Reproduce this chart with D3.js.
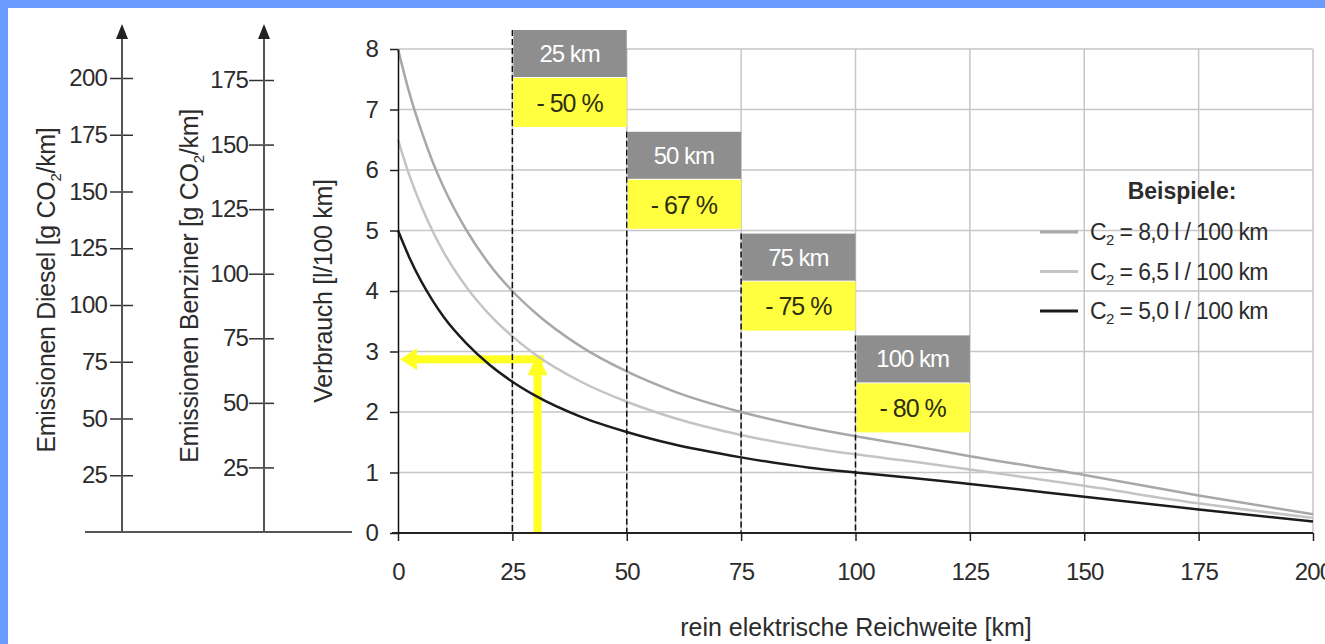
<!DOCTYPE html>
<meta charset="utf-8">
<style>
body { margin: 0; }
text { font-family: "Liberation Sans", Arial, sans-serif; fill: #2c2c2c; }
.grid line { stroke: #c6c6c6; stroke-width: 1.5px; }
.axis text { font-size: 24px; letter-spacing: -0.8px; }
</style>
<body>
<script src="https://cdn.jsdelivr.net/npm/d3@7"></script>
<script>

// rein elektrische Reichweite [km], sample points
var km   = [0, 2.5, 5, 7.5, 10, 15, 20, 25, 30, 40, 50, 60, 75, 90, 100, 112.5, 125, 150, 175, 200];
// Verbrauch [l/100 km] for each example C2
var c80  = [8.0, 7.27, 6.67, 6.15, 5.71, 5.0, 4.44, 4.0, 3.64, 3.08, 2.67, 2.35, 2.0, 1.74, 1.6, 1.44, 1.27, 0.96, 0.62, 0.31];
var c65  = [6.5, 5.91, 5.42, 5.0, 4.64, 4.06, 3.61, 3.25, 2.95, 2.5, 2.17, 1.91, 1.62, 1.41, 1.3, 1.18, 1.05, 0.78, 0.49, 0.25];
var c50  = [5.0, 4.55, 4.17, 3.85, 3.57, 3.13, 2.78, 2.5, 2.27, 1.92, 1.67, 1.47, 1.25, 1.08, 1.0, 0.91, 0.81, 0.6, 0.39, 0.19];

var legendNames  = ["8,0", "6,5", "5,0"];
var seriesValues = [c80, c65, c50];
var seriesColors = ["#a8a8a8", "#c4c4c4", "#1c1c1c"];

var rangeStart  = [25, 50, 75, 100];
var rangeLabels = ["25 km", "50 km", "75 km", "100 km"];
var reductions  = ["- 50 %", "- 67 %", "- 75 %", "- 80 %"];

var xTicks      = [0, 25, 50, 75, 100, 125, 150, 175, 200];
var yTicks      = [0, 1, 2, 3, 4, 5, 6, 7, 8];
var dieselTicks = [25, 50, 75, 100, 125, 150, 175, 200];
var benzinTicks = [25, 50, 75, 100, 125, 150, 175];

// the yellow read-off example
var readKm = 30.5, readVerbrauch = 2.92;

var width = 1325, height = 644;

var svg = d3.select("body").append("svg")
    .attr("width", width)
    .attr("height", height);

svg.append("rect").attr("width", width).attr("height", height).attr("fill", "#6a9bff");
svg.append("rect").attr("x", 8).attr("y", 8).attr("width", width - 8).attr("height", height - 8).attr("fill", "#fff");

var x = d3.scaleLinear().domain([0, 200]).range([398, 1313]);
var y = d3.scaleLinear().domain([0, 8]).range([533, 49]);
var yDiesel = d3.scaleLinear().domain([0, 200]).range([532, 78]);
var yBenzin = d3.scaleLinear().domain([0, 175]).range([532, 80]);

// grid
var grid = svg.append("g").attr("class", "grid");
grid.selectAll(".gx").data(xTicks.slice(1)).enter().append("line")
    .attr("x1", function(d) { return x(d); })
    .attr("x2", function(d) { return x(d); })
    .attr("y1", y(8)).attr("y2", y(0));
grid.selectAll(".gy").data(yTicks.slice(1)).enter().append("line")
    .attr("x1", x(0)).attr("x2", x(200))
    .attr("y1", function(d) { return y(d); })
    .attr("y2", function(d) { return y(d); });

// yellow read-off arrows
var yel = "#ffff22";
var ry = y(readVerbrauch);
svg.append("rect")
    .attr("x", x(0) + 17).attr("y", ry + 3 - 4)
    .attr("width", x(readKm) + 6 - x(0) - 17).attr("height", 8)
    .attr("fill", yel);
svg.append("polygon")
    .attr("points", [[x(0) + 2, ry + 3], [x(0) + 19, ry - 8], [x(0) + 19, ry + 14]].join(" "))
    .attr("fill", yel);
svg.append("rect")
    .attr("x", x(readKm) - 4).attr("y", ry + 18)
    .attr("width", 8).attr("height", y(0) - ry - 18)
    .attr("fill", yel);
svg.append("polygon")
    .attr("points", [[x(readKm), ry - 2], [x(readKm) - 10, ry + 19], [x(readKm) + 10, ry + 19]].join(" "))
    .attr("fill", yel);

// curves
var line = d3.line()
    .x(function(d) { return x(d[0]); })
    .y(function(d) { return y(d[1]); })
    .curve(d3.curveMonotoneX);

seriesValues.forEach(function(vals, i) {
  svg.append("path")
      .datum(d3.zip(km, vals))
      .attr("fill", "none")
      .attr("stroke", seriesColors[i])
      .attr("stroke-width", 2.5)
      .attr("d", line);
});

// range boxes + dashed lines
rangeStart.forEach(function(r, i) {
  var top = y(8) - 19 + i * 101.8;
  svg.append("line")
      .attr("x1", x(r)).attr("x2", x(r))
      .attr("y1", top).attr("y2", y(0))
      .attr("stroke", "#111").attr("stroke-width", 1.5)
      .attr("stroke-dasharray", "6,3");
  svg.append("rect")
      .attr("x", x(r) + 1).attr("y", top)
      .attr("width", x(r + 25) - x(r) - 1).attr("height", 47)
      .attr("fill", "#8e8e8e");
  svg.append("rect")
      .attr("x", x(r) + 1).attr("y", top + 48)
      .attr("width", x(r + 25) - x(r) - 1).attr("height", 49)
      .attr("fill", "#ffff40");
  svg.append("text")
      .attr("x", (x(r) + x(r + 25)) / 2).attr("y", top + 23.5)
      .attr("dy", "0.35em")
      .attr("text-anchor", "middle")
      .style("font-size", "24px").style("letter-spacing", "-1px").style("fill", "#fff")
      .text(rangeLabels[i]);
  svg.append("text")
      .attr("x", (x(r) + x(r + 25)) / 2).attr("y", top + 73)
      .attr("dy", "0.35em")
      .attr("text-anchor", "middle")
      .style("font-size", "25px").style("letter-spacing", "-1px").style("fill", "#2e2e10")
      .text(reductions[i]);
});

// main axes
var xAxis = svg.append("g").attr("class", "axis")
    .attr("transform", "translate(0," + y(0) + ")")
    .call(d3.axisBottom(x).tickValues(xTicks).tickSizeInner(8).tickSizeOuter(0).tickPadding(22));
xAxis.select(".domain").attr("stroke", "#222").attr("stroke-width", 2).attr("d", "M" + (x(0) - 6) + ",0H" + x(200));
xAxis.selectAll(".tick line").attr("stroke", "#222").attr("stroke-width", 1.5);

var yAxis = svg.append("g").attr("class", "axis")
    .attr("transform", "translate(" + x(0) + ",0)")
    .call(d3.axisLeft(y).tickValues(yTicks).tickSizeInner(8).tickSizeOuter(0).tickPadding(12));
yAxis.select(".domain").attr("stroke", "#111").attr("stroke-width", 1.5);
yAxis.selectAll(".tick line").attr("stroke", "#222").attr("stroke-width", 1.5);

// emission axes
function emissionAxis(scale, ticks, ax, left, right, pad) {
  var g = svg.append("g").attr("class", "axis")
      .attr("transform", "translate(" + ax + ",0)")
      .call(d3.axisLeft(scale).tickValues(ticks).tickSizeInner(left).tickSizeOuter(0).tickPadding(pad));
  g.select(".domain").remove();
  g.selectAll(".tick line").attr("x2", right).attr("x1", -left).attr("stroke", "#333").attr("stroke-width", 1.5);
  g.append("line").attr("x1", 0).attr("x2", 0).attr("y1", 532).attr("y2", 34)
      .attr("stroke", "#555").attr("stroke-width", 2);
  g.append("polygon").attr("points", "0,24 -6,39 6,39").attr("fill", "#222");
}
emissionAxis(yDiesel, dieselTicks, 122, 12, 11, 3);
emissionAxis(yBenzin, benzinTicks, 264, 15, 10, 1);

svg.append("line").attr("x1", 85).attr("x2", 352).attr("y1", 532).attr("y2", 532)
    .attr("stroke", "#555").attr("stroke-width", 2);

// axis titles
function vTitle(cx, cy, parts) {
  var t = svg.append("text")
      .attr("transform", "translate(" + cx + "," + cy + ") rotate(-90)")
      .attr("text-anchor", "middle")
      .attr("dy", "0.35em")
      .style("font-size", "25px").style("letter-spacing", "-0.3px");
  parts.forEach(function(p) {
    if (p.sub) {
      t.append("tspan").attr("dy", 6).style("font-size", "15px").text(p.text);
    } else {
      t.append("tspan").attr("dy", p.after ? -6 : null).text(p.text);
    }
  });
}
vTitle(46, 290, [{text: "Emissionen Diesel [g CO"}, {text: "2", sub: true}, {text: "/km]", after: true}]);
vTitle(189, 286, [{text: "Emissionen Benziner [g CO"}, {text: "2", sub: true}, {text: "/km]", after: true}]);
vTitle(323, 291, [{text: "Verbrauch [l/100 km]"}]);

svg.append("text")
    .attr("x", 856).attr("y", 636)
    .attr("text-anchor", "middle")
    .style("font-size", "25px")
    .text("rein elektrische Reichweite [km]");

// legend
svg.append("text")
    .attr("x", 1182).attr("y", 199)
    .attr("text-anchor", "middle")
    .style("font-size", "23px").style("font-weight", "bold")
    .text("Beispiele:");

legendNames.forEach(function(n, i) {
  var ly = 232 + i * 39.5;
  svg.append("line")
      .attr("x1", 1040).attr("x2", 1078)
      .attr("y1", ly).attr("y2", ly)
      .attr("stroke", seriesColors[i]).attr("stroke-width", 3);
  var t = svg.append("text")
      .attr("x", 1090).attr("y", ly + 8)
      .style("font-size", "23px").style("letter-spacing", "-0.6px");
  t.append("tspan").text("C");
  t.append("tspan").attr("dy", 5).style("font-size", "15px").text("2");
  t.append("tspan").attr("dy", -5).text(" = " + n + " l / 100 km");
});

</script>
</body>
